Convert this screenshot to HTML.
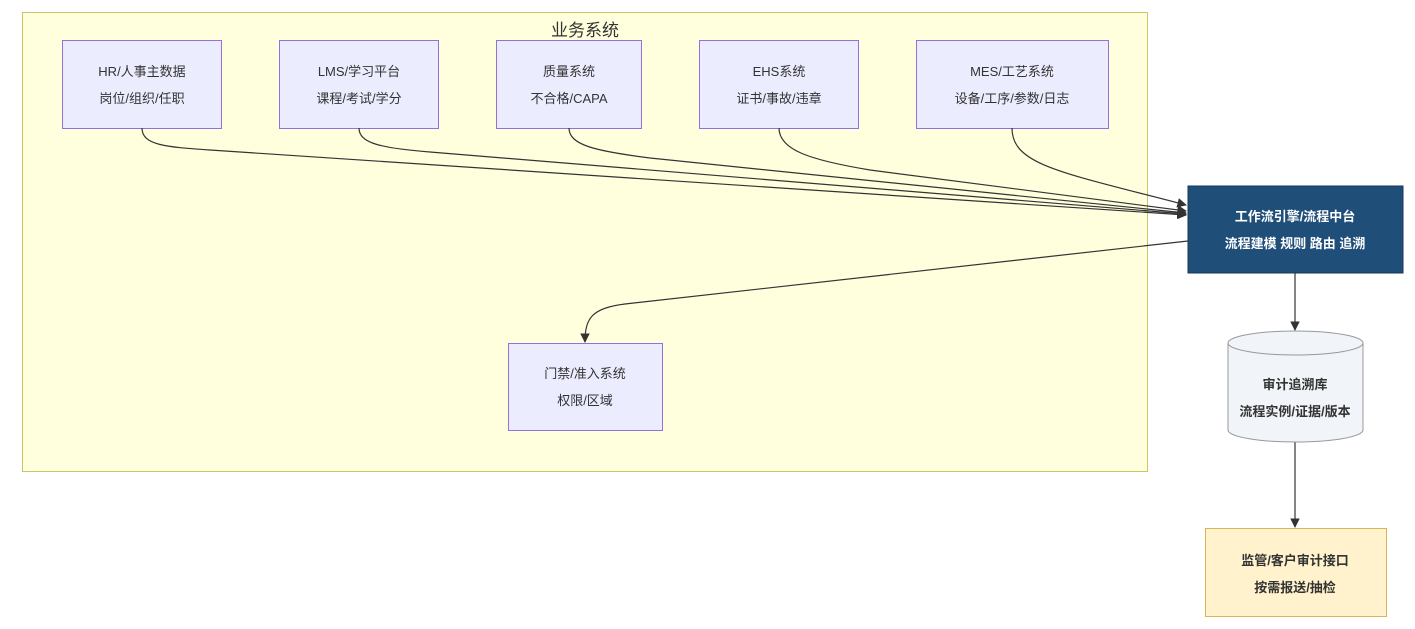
<!DOCTYPE html>
<html><head><meta charset="utf-8"><style>
html,body{margin:0;padding:0;background:#fff;width:1415px;height:629px;overflow:hidden}
text{font-family:"Liberation Sans","Noto Sans CJK SC",sans-serif;font-size:13px;text-anchor:middle;fill:#333}
</style></head><body>
<svg width="1415" height="629" viewBox="0 0 1415 629" xmlns="http://www.w3.org/2000/svg">
<defs><marker id="a" viewBox="0 0 10 10" refX="9" refY="5" markerWidth="8" markerHeight="8" orient="auto"><path d="M0,0L10,5L0,10z" fill="#333"/></marker></defs>
<rect x="22.5" y="12.5" width="1125" height="459" fill="#ffffde" stroke="#c9c66a"/>
<text x="585" y="36" style="font-size:17px">业务系统</text>
<g fill="#ececff" stroke="#9370db">
<rect x="62.5" y="40.5" width="159" height="88"/>
<rect x="279.5" y="40.5" width="159" height="88"/>
<rect x="496.5" y="40.5" width="145" height="88"/>
<rect x="699.5" y="40.5" width="159" height="88"/>
<rect x="916.5" y="40.5" width="192" height="88"/>
<rect x="508.5" y="343.5" width="154" height="87"/>
</g>
<text x="142" y="76">HR/人事主数据</text><text x="142" y="103">岗位/组织/任职</text>
<text x="359" y="76">LMS/学习平台</text><text x="359" y="103">课程/考试/学分</text>
<text x="569" y="76">质量系统</text><text x="569" y="103">不合格/CAPA</text>
<text x="779" y="76">EHS系统</text><text x="779" y="103">证书/事故/违章</text>
<text x="1012" y="76">MES/工艺系统</text><text x="1012" y="103">设备/工序/参数/日志</text>
<text x="585" y="378">门禁/准入系统</text><text x="585" y="405">权限/区域</text>
<g fill="none" stroke="#333" stroke-width="1.2" marker-end="url(#a)">
<path d="M142,128 C142,145 165,147 210,150 L1186,215"/>
<path d="M359,128 C359,143 380,148 430,152 L1186,214"/>
<path d="M569,128 C569,145 595,151 650,158 L1186,213"/>
<path d="M779,128 C779,150 810,160 870,170 L1186,211"/>
<path d="M1012,128 C1012,165 1060,172 1186,205"/>
<path d="M1188,241 L625,304 C592,308 585,318 585,342"/>
<path d="M1295,273 L1295,330"/>
<path d="M1295,442 L1295,527"/>
</g>
<rect x="1188" y="186" width="215" height="87" fill="#1f4e79" stroke="#16385a"/>
<text x="1295" y="221" style="fill:#fff;font-weight:bold">工作流引擎/流程中台</text>
<text x="1295" y="248" style="fill:#fff;font-weight:bold">流程建模 规则 路由 追溯</text>
<path d="M1228,343 A67.5,12 0 0 1 1363,343 L1363,430 A67.5,12 0 0 1 1228,430 Z" fill="#f1f4f8" stroke="#999"/>
<path d="M1228,343 A67.5,12 0 0 0 1363,343" fill="none" stroke="#999"/>
<text x="1295" y="389" style="font-weight:bold">审计追溯库</text>
<text x="1295" y="416" style="font-weight:bold">流程实例/证据/版本</text>
<rect x="1205.5" y="528.5" width="181" height="88" fill="#fff2cc" stroke="#d6b656"/>
<text x="1295" y="565" style="font-weight:bold">监管/客户审计接口</text>
<text x="1295" y="592" style="font-weight:bold">按需报送/抽检</text>
</svg>
</body></html>
